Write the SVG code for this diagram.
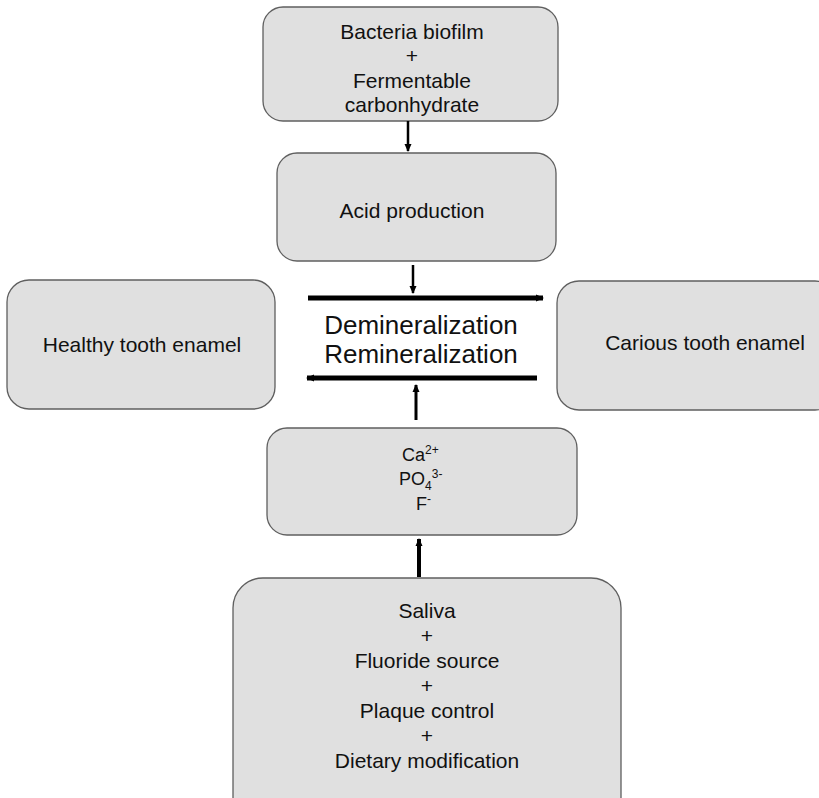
<svg xmlns="http://www.w3.org/2000/svg" width="819" height="798" viewBox="0 0 819 798">
<style>
.box{fill:#e0e0e0;stroke:#5f5f5f;stroke-width:1.3}
.t{font-family:"Liberation Sans",Arial,sans-serif;font-size:21px;fill:#111;text-anchor:middle}
.s{font-family:"Liberation Sans",Arial,sans-serif;font-size:18px;fill:#111}
.big{font-family:"Liberation Sans",Arial,sans-serif;font-size:26px;fill:#111;text-anchor:middle}
.c{stroke:#000;fill:none}
</style>
<defs>
<marker id="ah" markerUnits="userSpaceOnUse" markerWidth="8" markerHeight="8" viewBox="0 0 8 8" refX="7" refY="4" orient="auto">
<path d="M0,0.5 L8,4 L0,7.5 Z" fill="#000"/>
</marker>
</defs>
<rect width="819" height="798" fill="#fff"/>
<g id="n1"><rect class="box" x="263" y="7" width="295" height="114" rx="20"/>
<text class="t" x="412" y="39">Bacteria biofilm</text>
<text class="t" x="412" y="63">+</text>
<text class="t" x="412" y="88">Fermentable</text>
<text class="t" x="412" y="112">carbonhydrate</text></g>
<g id="n2"><rect class="box" x="277" y="153" width="279" height="108" rx="20"/>
<text class="t" x="412" y="218">Acid production</text></g>
<g id="n3"><rect class="box" x="7" y="280" width="268" height="129" rx="22"/>
<text class="t" x="142" y="352">Healthy tooth enamel</text></g>
<g id="n4"><rect class="box" x="557" y="281" width="280" height="129" rx="22"/>
<text class="t" x="705" y="350">Carious tooth enamel</text></g>
<g id="n5"><text class="big" x="421" y="334">Demineralization</text>
<text class="big" x="421" y="363">Remineralization</text></g>
<g id="n6"><rect class="box" x="267" y="428" width="310" height="107" rx="20"/>
<text class="s" x="402" y="461">Ca<tspan font-size="12" dy="-7">2+</tspan></text>
<text class="s" x="399" y="485">PO<tspan font-size="12" dy="5">4</tspan><tspan font-size="12" dy="-12">3-</tspan></text>
<text class="s" x="416" y="510">F<tspan font-size="12" dy="-7">-</tspan></text></g>
<g id="n7"><rect class="box" x="233" y="578" width="388" height="250" rx="30"/>
<text class="t" x="427" y="618">Saliva</text>
<text class="t" x="427" y="643">+</text>
<text class="t" x="427" y="668">Fluoride source</text>
<text class="t" x="427" y="693">+</text>
<text class="t" x="427" y="718">Plaque control</text>
<text class="t" x="427" y="743">+</text>
<text class="t" x="427" y="768">Dietary modification</text></g>
<g id="connectors">
<line class="c" x1="408" y1="121" x2="408" y2="151" stroke-width="2.5" marker-end="url(#ah)"/>
<line class="c" x1="413" y1="265" x2="413" y2="293" stroke-width="2.5" marker-end="url(#ah)"/>
<line class="c" x1="308" y1="298" x2="543" y2="298" stroke-width="5" marker-end="url(#ah)"/>
<line class="c" x1="537" y1="378" x2="307" y2="378" stroke-width="5" marker-end="url(#ah)"/>
<line class="c" x1="416" y1="420" x2="416" y2="385" stroke-width="3" marker-end="url(#ah)"/>
<line class="c" x1="419" y1="577" x2="419" y2="539" stroke-width="4" marker-end="url(#ah)"/>
</g>
</svg>
